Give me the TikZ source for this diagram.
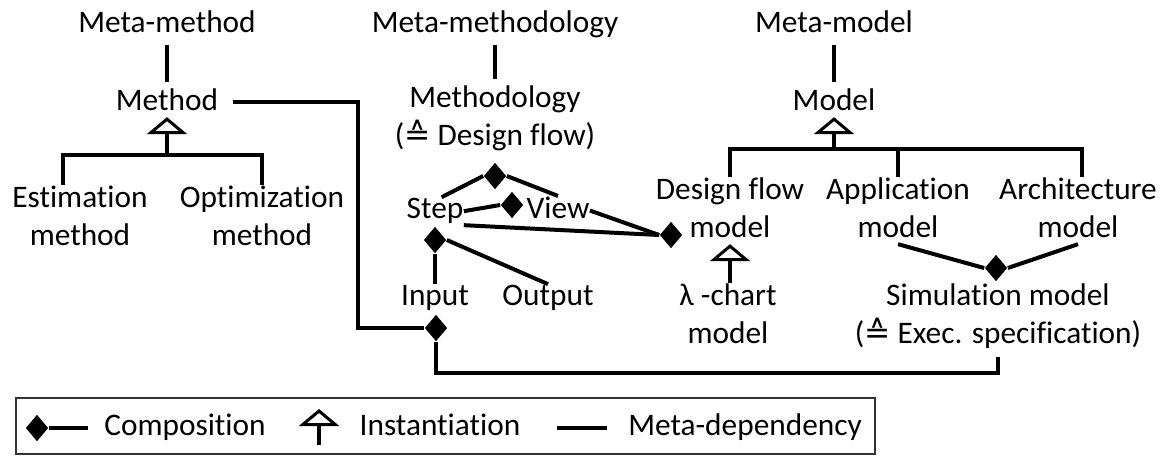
\documentclass[tikz,border=0pt]{standalone}
\usepackage{fontspec}
\setmainfont{Carlito}[Ligatures=NoCommon]
\newfontfamily\symfont{DejaVu Sans}
\usetikzlibrary{shapes.geometric,arrows.meta}

\tikzset{every picture/.style={line width=0.75pt}}
\tikzset{
  lbl/.style={inner sep=0pt, align=center, anchor=base, text depth=5pt, font=\fontsize{23.5}{28.5}\selectfont},
  comp/.style={diamond, fill=black, draw=none, inner sep=0pt, minimum width=17pt, minimum height=20pt},
  link/.style={line width=3pt},
  meta/.style={link, shorten <=4.5pt, shorten >=4.5pt},
  inst/.style={line width=3pt, -{Triangle[open, line width=2.25pt, length=12.75pt, width=30pt]}},
  legbox/.style={draw=black!80, line width=1.5pt}
}

\begin{document}
\begin{tikzpicture}[x=0.75pt,y=0.75pt,yscale=-1,xscale=1]
\useasboundingbox (0,0) rectangle (1169,455);

% Text Node: method column
\node[lbl] (mmeth) at (167,32) {Meta-method};
\node[lbl] (meth) at (167,110) {Method};
\node[lbl] (est) at (80,245) {Estimation\\method};
\node[lbl] (opt) at (262,245) {Optimization\\method};
% Text Node: methodology column
\node[lbl] (mmethy) at (495,32) {Meta-methodology};
\node[lbl] (methy) at (495,145) {Methodology\\({\symfont ≙} Design flow)};
\node[lbl] (step) at (435,218) {Step};
\node[lbl] (view) at (558,218) {View};
\node[lbl] (input) at (435,305) {Input};
\node[lbl] (output) at (548,305) {Output};
% Text Node: model column
\node[lbl] (mmod) at (834,32) {Meta-model};
\node[lbl] (mod) at (834,110) {Model};
\node[lbl] (dfmod) at (730,237) {Design flow\\model};
\node[lbl] (app) at (898,237) {Application\\model};
\node[lbl] (arch) at (1078,237) {Architecture\\model};
\node[lbl] (lam) at (728,343) {λ -chart\\model};
\node[lbl] (sim) at (998,343) {Simulation model\\({\symfont ≙} Exec. specification)};

%Shape: Diamond
\node[comp] (dmethy) at (495,176) {};
\node[comp] (dstep) at (512,205) {};
\node[comp] (dio) at (435,240) {};
\node[comp] (dinput) at (436,328) {};
\node[comp] (dfm) at (671,235) {};
\node[comp] (dsim) at (996,268) {};

% bends
\coordinate (methbar) at (167,155);
\coordinate (modbar) at (834,149);
\coordinate (mbend) at (358,328);
\coordinate (lowbend) at (436,373);

% Meta-dependency lines
\draw[meta] (mmeth.south) -- (meth.north);
\draw[meta] (mmethy.south) -- (methy.north);
\draw[meta] (mmod.south) -- (mod.north);
\draw[link, shorten <=11pt] (meth.east) -| (mbend) -- (dinput.west);
\draw[link, shorten >=5pt] (dinput.south) -- (lowbend) -| (sim.south);

% Instantiation
\draw[link] ([xshift=-12.75pt]est.north) |- (methbar) -| (opt.north);
\draw[inst] (methbar) -- (meth.south);
\draw[link] (dfmod.north) |- (modbar) -| ([xshift=3pt]arch.north);
\draw[link] (app.north) -- (app.north |- modbar);
\draw[inst] (modbar) -- (mod.south);
\draw[inst] (dfmod.south |- lam.north) -- (dfmod.south);

% Composition
\draw[link] (dmethy.west) -- ([xshift=5pt]step.north);
\draw[link] (dmethy.east) -- (view.north);
\draw[link] (step.east) -- (dstep.west);
\draw[link] (step.south east) -- (dfm.west);
\draw[link] (view.east) -- (dfm.west);
\draw[link] (dio.south) -- (input.north);
\draw[link] (dio.east) -- (output.north);
\draw[link] (app.south) -- (dsim.west);
\draw[link] (arch.south) -- (dsim.east);

% Legend
\draw[legbox] (16,398) rectangle (875,454);
\node[comp] (lgcomp) at (37,428) {};
\coordinate (lgcompend) at (88,428);
\draw[link] (lgcomp.east) -- (lgcompend);
\node[lbl] (lgcomptxt) at (185,435) {Composition};
\coordinate (lginstlow) at (319,445);
\coordinate (lginsttop) at (319,409);
\draw[inst] (lginstlow) -- (lginsttop);
\node[lbl] (lginsttxt) at (440,435) {Instantiation};
\coordinate (lgdepa) at (557,428);
\coordinate (lgdepb) at (607,428);
\draw[link] (lgdepa) -- (lgdepb);
\node[lbl] (lgdeptxt) at (745,435) {Meta-dependency};

\end{tikzpicture}
\end{document}
